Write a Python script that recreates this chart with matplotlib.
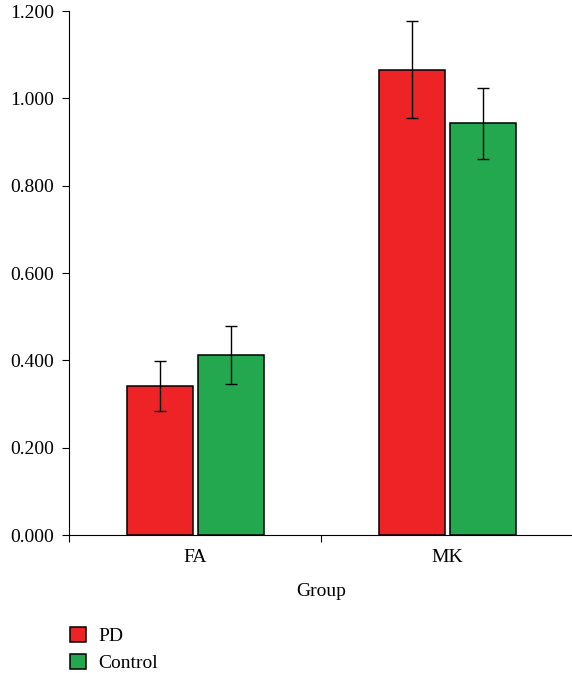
import matplotlib
matplotlib.use("Agg")
import matplotlib.pyplot as plt
import numpy as np

groups = ["FA", "MK"]
series = ["PD", "Control"]
pd_mean = [0.341, 1.066]
pd_err = [0.058, 0.111]
ctrl_mean = [0.412, 0.943]
ctrl_err = [0.066, 0.082]
yticks = [0.0, 0.2, 0.4, 0.6, 0.8, 1.0, 1.2]

cores = ["#ee2326", "#23a84f"]

plt.rcParams['font.family'] = ['Liberation Serif', 'DejaVu Serif']
plt.rcParams['font.size'] = 14

fig = plt.figure(figsize=(5.72, 6.73), dpi=100)
ax = fig.add_axes([0.1215, 0.205, 0.8805, 0.7785])

x = np.arange(len(groups))
largura = 0.262
desloc = 0.141

ax.bar(x - desloc, pd_mean, largura, color=cores[0], edgecolor="black", linewidth=1.1, label=series[0])
ax.bar(x + desloc, ctrl_mean, largura, color=cores[1], edgecolor="black", linewidth=1.1, label=series[1])
ax.errorbar(x - desloc, pd_mean, yerr=pd_err, fmt="none", ecolor="black", elinewidth=1, capsize=4, capthick=1)
ax.errorbar(x + desloc, ctrl_mean, yerr=ctrl_err, fmt="none", ecolor="black", elinewidth=1, capsize=4, capthick=1)

ax.set_xlim(-0.5, 1.5)
ax.set_ylim(0, 1.2)
ax.set_yticks(yticks)
ax.set_yticklabels([f"{v:.3f}" for v in yticks])

ax.set_xticks([-0.5, 0.5, 1.5])
ax.set_xticklabels([])
ax.set_xticks(x, minor=True)
ax.set_xticklabels(groups, minor=True)
ax.tick_params(axis="x", which="minor", length=0, pad=10)
ax.tick_params(axis="x", which="major", length=5, direction="out")
ax.tick_params(axis="y", length=5, direction="out", pad=6)
ax.set_xlabel("Group", labelpad=12)

for s in ["top", "right"]:
    ax.spines[s].set_visible(False)

h, l = ax.get_legend_handles_labels()
fig.legend(h, l, loc="upper left", bbox_to_anchor=(0.105, 0.083), frameon=False,
           handlelength=0.85, handleheight=0.85, handletextpad=0.6, labelspacing=0.42, borderpad=0)

fig.savefig("out.png", dpi=100)
